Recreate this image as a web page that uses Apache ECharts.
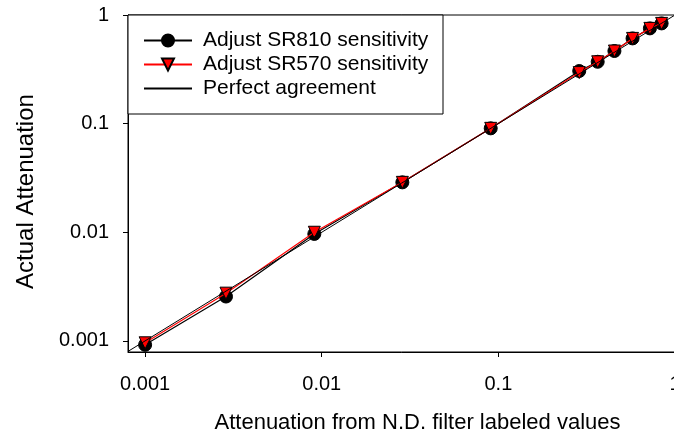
<!DOCTYPE html>
<html>
<head>
<meta charset="utf-8">
<script src="https://cdn.jsdelivr.net/npm/echarts@6/dist/echarts.min.js"></script>
<style>html,body{margin:0;padding:0;background:#fff;}#c{width:674px;height:432px;}</style>
</head>
<body>
<div id="c"></div>
<script>
const xVals = [0.001, 0.00287, 0.00908, 0.0286, 0.0905, 0.287, 0.365, 0.454, 0.575, 0.721, 0.840];
const sr810 = [0.00092, 0.00256, 0.00965, 0.0288, 0.0905, 0.305, 0.371, 0.466, 0.609, 0.753, 0.837];
const sr570 = [0.00096, 0.00275, 0.0100, 0.0288, 0.0905, 0.295, 0.371, 0.466, 0.609, 0.753, 0.837];
const perfectX = [0.0008, 1];
const perfectY = [0.0008, 1];
const tickValues = [0.001, 0.01, 0.1, 1];
const tickLabels = ['0.001', '0.01', '0.1', '1'];

const FONT = 'Liberation Sans, Arial, sans-serif';
function fmt(v) {
  for (let i = 0; i < tickValues.length; i++) {
    if (Math.abs(Math.log10(v) - Math.log10(tickValues[i])) < 1e-6) return tickLabels[i];
  }
  return '';
}
const pairs = (xs, ys) => xs.map((x, i) => [x, ys[i]]);

const chart = echarts.init(document.getElementById('c'), null, {renderer: 'canvas'});
chart.setOption({
  animation: false,
  backgroundColor: '#fff',
  grid: {left: 128, top: 15, right: -1, bottom: 80, outerBoundsMode: 'none', containLabel: false,
         show: true, borderColor: '#000', borderWidth: 1, backgroundColor: 'transparent'},
  legend: {
    orient: 'vertical', left: 128, top: 15,
    padding: [15, 14, 15, 15],
    itemWidth: 48, itemHeight: 15, itemGap: 3,
    borderColor: '#000', borderWidth: 1, backgroundColor: '#fff',
    textStyle: {fontFamily: FONT, fontSize: 21, color: '#000', lineHeight: 20, width: 226, padding: [0, 0, 0, 6]},
    data: [
      'Adjust SR810 sensitivity',
      'Adjust SR570 sensitivity',
      {name: 'Perfect agreement', itemStyle: {opacity: 0}}
    ]
  },
  xAxis: {
    type: 'log', min: 0.0008, max: 1,
    name: 'Attenuation from N.D. filter labeled values', nameLocation: 'middle', nameGap: 60,
    nameTextStyle: {fontFamily: FONT, fontSize: 22, color: '#000', padding: [0, 0, 0, 32]},
    axisLine: {lineStyle: {color: '#000', width: 1}},
    axisTick: {show: true, length: 5, lineStyle: {color: '#000'}},
    axisLabel: {formatter: fmt, fontFamily: FONT, fontSize: 20, color: '#000', margin: 22, showMinLabel: false, showMaxLabel: true, hideOverlap: false},
    splitLine: {show: false}, minorTick: {show: false}
  },
  yAxis: {
    type: 'log', min: 0.00079, max: 1,
    name: 'Actual Attenuation', nameLocation: 'middle', nameGap: 90,
    nameTextStyle: {fontFamily: FONT, fontSize: 24, color: '#000', padding: [0, 16, 0, 0]},
    axisLine: {lineStyle: {color: '#000', width: 1}},
    axisTick: {show: true, length: 5, lineStyle: {color: '#000'}},
    axisLabel: {formatter: fmt, fontFamily: FONT, fontSize: 20, color: '#000', margin: 19, showMinLabel: false, showMaxLabel: true, hideOverlap: false},
    splitLine: {show: false}, minorTick: {show: false}
  },
  series: [
    {
      name: 'Adjust SR810 sensitivity', type: 'line', data: pairs(xVals, sr810),
      symbol: 'circle', symbolSize: 13, showAllSymbol: true,
      lineStyle: {color: '#000', width: 1.2}, itemStyle: {color: '#000', borderColor: '#000', borderWidth: 1}, color: '#000', z: 2
    },
    {
      name: 'Adjust SR570 sensitivity', type: 'line', data: pairs(xVals, sr570),
      symbol: 'triangle', symbolRotate: 180, symbolSize: 12, showAllSymbol: true,
      lineStyle: {color: '#ff0000', width: 1.2}, itemStyle: {color: '#ff0000', borderColor: '#000', borderWidth: 1}, color: '#ff0000', z: 3
    },
    {
      name: 'Perfect agreement', type: 'line', data: pairs(perfectX, perfectY),
      symbol: 'none', lineStyle: {color: '#000', width: 1}, color: '#000', z: 4
    }
  ]
});
</script>
</body>
</html>
